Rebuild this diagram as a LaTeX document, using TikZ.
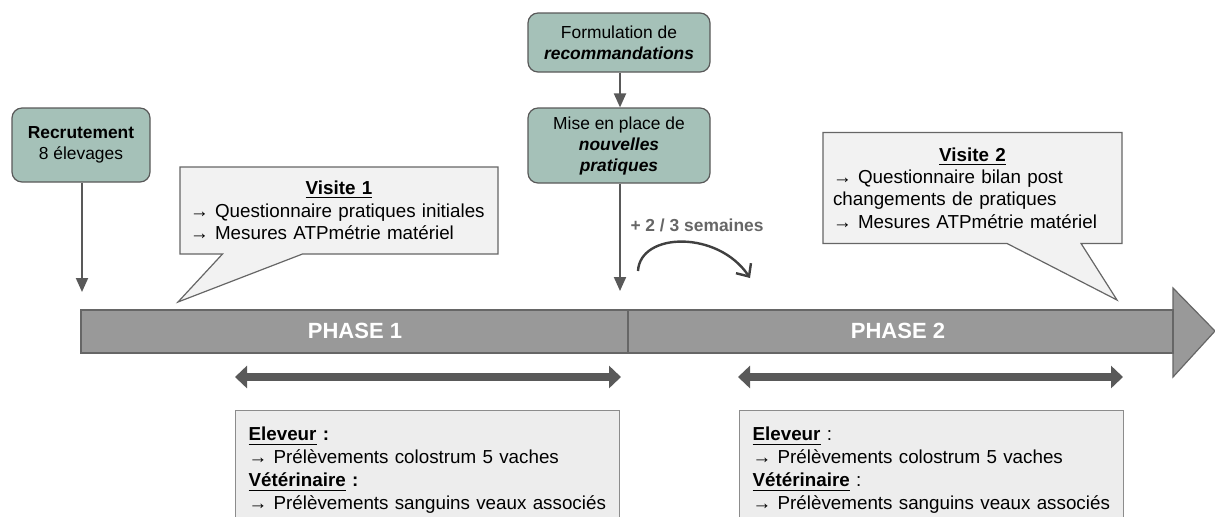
\documentclass[tikz,border=0pt]{standalone}
\usepackage{fontspec}
\setmainfont{Liberation Sans}
\usetikzlibrary{arrows.meta,shapes.callouts}

\definecolor{boxteal}{HTML}{A5C1B8}
\definecolor{bargray}{HTML}{999999}
\definecolor{linegray}{HTML}{595959}

\tikzset{
  etape/.style={draw=black!65, fill=boxteal, rounded corners=5pt, align=center,
    line width=0.6pt, font=\fontsize{8.7}{10.5}\selectfont},
  bulle/.style={rectangle callout, draw=black!60, fill=black!5, align=left,
    line width=0.6pt, inner xsep=5pt, font=\fontsize{9.4}{11.2}\selectfont},
  fleche/.style={-{Triangle[length=7pt,width=6pt]}, draw=linegray, line width=1pt},
  periode/.style={{Triangle[length=6pt,width=11pt]}-{Triangle[length=6pt,width=11pt]},
    draw=linegray, line width=4pt},
  releve/.style={draw=black!45, fill=black!7, anchor=north west, align=left,
    text width=179pt, inner xsep=6.5pt, inner ysep=5pt, line width=0.6pt,
    font=\fontsize{9.4}{11.5}\selectfont},
  phase/.style={text=white, font=\fontsize{11}{13}\selectfont\bfseries}
}

\begin{document}
\begin{tikzpicture}[x=0.5pt,y=-0.5pt]
  \clip (0,0) rectangle (1215,516);
  \useasboundingbox (0,0) rectangle (1215,516);

  % la frise
  \fill[bargray] (81,310) rectangle (1173,353);
  \fill[bargray] (1173,288) -- (1215,331) -- (1173,377) -- cycle;
  \draw[black!60, line width=0.6pt] (81,310) rectangle (1173,353);
  \draw[black!60, line width=0.6pt] (1173,288) -- (1215,331) -- (1173,377) -- cycle;
  \draw[black!60, line width=0.6pt] (628,310) -- (628,353);
  \node[phase] (ph1) at (355,331) {PHASE 1};
  \node[phase] (ph2) at (898,331) {PHASE 2};

  % etapes
  \node[etape, minimum width=69pt, minimum height=37pt] (recru) at (81,145)
    {\textbf{Recrutement}\\8 élevages};
  \node[etape, minimum width=91pt, minimum height=29.5pt] (formu) at (619,42.5)
    {Formulation de\\\textbf{\textit{recommandations}}};
  \node[etape, minimum width=91pt, minimum height=37.5pt] (mise) at (619,145.5)
    {Mise en place de\\\textbf{\textit{nouvelles}}\\\textbf{\textit{pratiques}}};

  \coordinate (t0) at (82,292);
  \coordinate (t1) at (620,291);
  \draw[fleche] (recru.south -| t0) -- (t0);
  \draw[fleche] (formu.south -| t1) -- (mise.north -| t1);
  \draw[fleche] (mise.south -| t1) -- (t1);

  % delai
  \node[text=black!60, font=\fontsize{8.7}{11}\selectfont\bfseries] (delai) at (697,225)
    {+ 2 / 3 semaines};
  \coordinate (c0) at (638,271);
  \coordinate (c1) at (750,278);
  \draw[-{Straight Barb[length=5pt,width=9pt]}, draw=black!75, line width=1.2pt]
    (c0) .. controls (640,232) and (718,230) .. (c1);

  % visites
  \node[bulle, text width=149pt, minimum height=43.5pt, callout absolute pointer={(178,302)},
    callout pointer width=40pt] (visite1) at (339,210.5)
    {\makebox[\linewidth]{\textbf{\underline{Visite 1}}}\\
     → Questionnaire pratiques initiales\\
     → Mesures ATPmétrie matériel};
  \node[bulle, text width=139.5pt, minimum height=55.5pt, callout absolute pointer={(1117,300)},
    callout pointer width=37pt] (visite2) at (972.5,188)
    {\makebox[\linewidth]{\textbf{\underline{Visite 2}}}\\
     → Questionnaire bilan post\\
     changements de pratiques\\
     → Mesures ATPmétrie matériel};

  % periodes de prelevement
  \coordinate (p1a) at (235,377);
  \coordinate (p1b) at (621,377);
  \coordinate (p2a) at (738,377);
  \coordinate (p2b) at (1123,377);
  \draw[periode] (p1a) -- (p1b);
  \draw[periode] (p2a) -- (p2b);

  \node[releve, minimum height=60pt] (prel1) at (235,410)
    {\textbf{\underline{Eleveur} :}\\
     → Prélèvements colostrum 5 vaches\\
     \textbf{\underline{Vétérinaire} :}\\
     → Prélèvements sanguins veaux associés};
  \node[releve, minimum height=60pt] (prel2) at (739,410)
    {\textbf{\underline{Eleveur}} :\\
     → Prélèvements colostrum 5 vaches\\
     \textbf{\underline{Vétérinaire}} :\\
     → Prélèvements sanguins veaux associés};
\end{tikzpicture}
\end{document}
